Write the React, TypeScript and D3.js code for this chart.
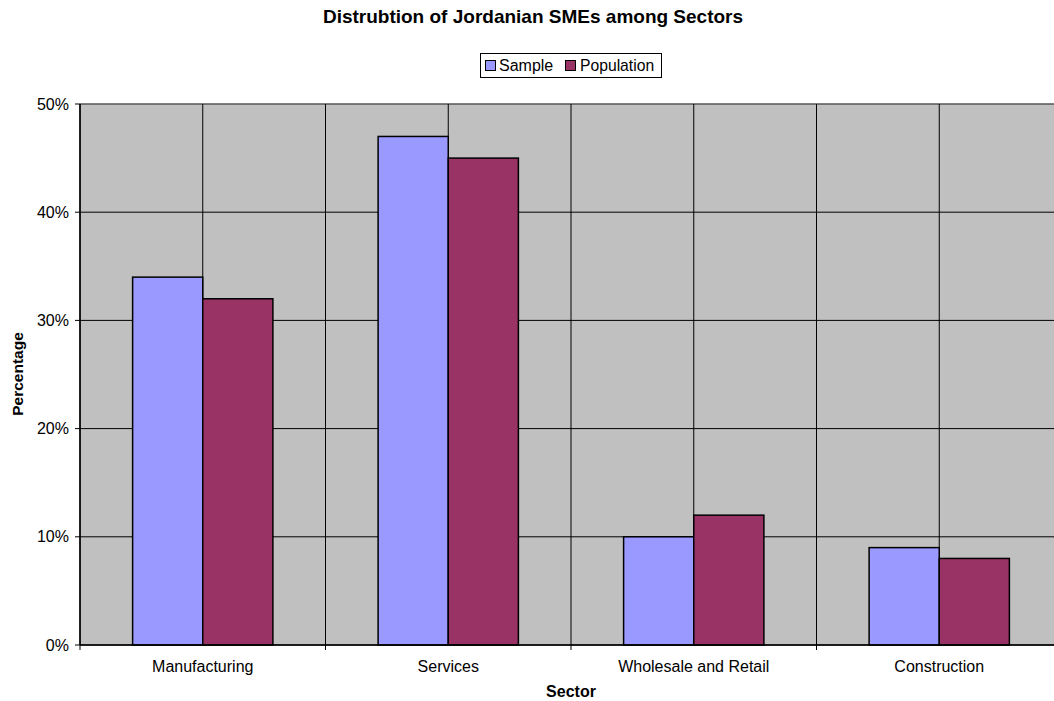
import React from "react";
import * as d3 from "d3";

const categories = ["Manufacturing", "Services", "Wholesale and Retail", "Construction"];
const sampleValues = [34, 47, 10, 9];
const populationValues = [32, 45, 12, 8];
const seriesNames = ["Sample", "Population"];
const seriesColors = ["#9999FF", "#993366"];
const yTicks = [0, 10, 20, 30, 40, 50];

const W = 1054;
const H = 701;
const left = 80;
const right = 1062;
const top = 104;
const bottom = 645;
const font = "'Liberation Sans', Arial, sans-serif";

export default function App() {
  const x = d3.scaleBand<string>().domain(categories).range([left, right]).paddingInner(0).paddingOuter(0);
  const y = d3.scaleLinear().domain([0, 50]).range([bottom, top]);
  const bw = x.bandwidth();
  const barW = bw / 3.5;
  const series = [sampleValues, populationValues];

  return (
    <svg width={W} height={H} style={{ position: "absolute", left: 0, top: 0, background: "#fff" }} fontFamily={font}>
      <rect x={left} y={top} width={right - left} height={bottom - top} fill="#C0C0C0" />
      {yTicks.map((t) => (
        <line key={"gy" + t} x1={left} x2={right} y1={y(t)} y2={y(t)} stroke="#000" strokeWidth={1} />
      ))}
      <line x1={left} x2={right} y1={top} y2={top} stroke="#808080" strokeWidth={1} />
      {categories.map((c) => (
        <g key={"gx" + c}>
          <line x1={x(c)!} x2={x(c)!} y1={top} y2={bottom + 5} stroke="#000" strokeWidth={1} />
          <line x1={x(c)! + bw / 2} x2={x(c)! + bw / 2} y1={top} y2={bottom} stroke="#000" strokeWidth={1} />
        </g>
      ))}
      {categories.map((c, i) =>
        series.map((vals, s) => (
          <rect
            key={c + s}
            x={x(c)! + bw / 2 - barW + s * barW}
            y={y(vals[i])}
            width={barW}
            height={bottom - y(vals[i])}
            fill={seriesColors[s]}
            stroke="#000"
            strokeWidth={1.5}
          />
        ))
      )}
      <line x1={left} x2={right} y1={bottom} y2={bottom} stroke="#000" strokeWidth={1.5} />
      <line x1={left} x2={left} y1={top} y2={bottom} stroke="#000" strokeWidth={1.5} />
      {yTicks.map((t) => (
        <g key={"yt" + t}>
          <line x1={left - 5} x2={left} y1={y(t)} y2={y(t)} stroke="#000" />
          <text x={left - 11} y={y(t)} dy="0.35em" textAnchor="end" fontSize={16}>
            {t}%
          </text>
        </g>
      ))}
      {categories.map((c) => (
        <text key={"xl" + c} x={x(c)! + bw / 2} y={bottom + 27} textAnchor="middle" fontSize={16}>
          {c}
        </text>
      ))}
      <text x={533} y={23} textAnchor="middle" fontSize={19} fontWeight="bold">
        Distrubtion of Jordanian SMEs among Sectors
      </text>
      <text x={571} y={697} textAnchor="middle" fontSize={16} fontWeight="bold">
        Sector
      </text>
      <text transform={`translate(23,374) rotate(-90)`} textAnchor="middle" fontSize={15.5} fontWeight="bold">
        Percentage
      </text>
      <g>
        <rect x={480.5} y={53.5} width={181} height={24} fill="#fff" stroke="#000" />
        <rect x={485.5} y={60.5} width={10} height={10} fill={seriesColors[0]} stroke="#000" />
        <text x={499} y={70.5} fontSize={16}>{seriesNames[0]}</text>
        <rect x={565.5} y={60.5} width={10} height={10} fill={seriesColors[1]} stroke="#000" />
        <text x={580} y={70.5} fontSize={15.7}>{seriesNames[1]}</text>
      </g>
    </svg>
  );
}
